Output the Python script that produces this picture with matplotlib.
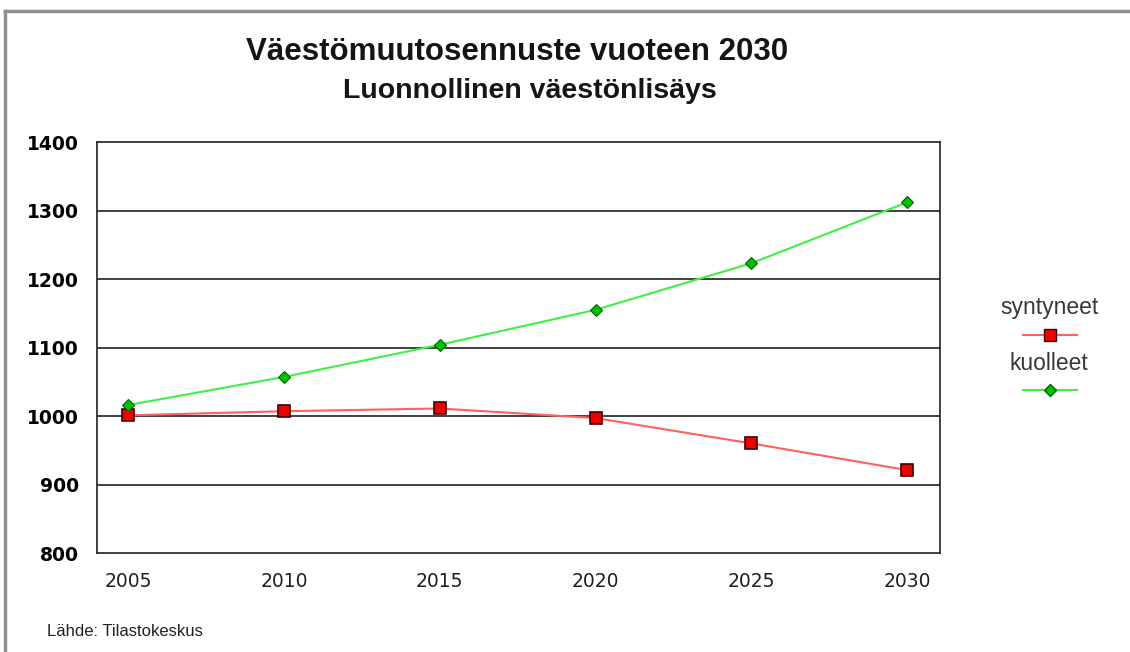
import matplotlib.pyplot as plt
from matplotlib.lines import Line2D

years = [2005, 2010, 2015, 2020, 2025, 2030]
syntyneet = [1001, 1007, 1011, 997, 960, 921]
kuolleet = [1016, 1057, 1104, 1155, 1223, 1312]
y_ticks = [800, 900, 1000, 1100, 1200, 1300, 1400]

plt.rcParams['font.family'] = ['Liberation Sans', 'DejaVu Sans']

fig = plt.figure(figsize=(11.3, 6.52), dpi=100)
ax = fig.add_axes([0.0858, 0.1518, 0.746, 0.6304])

# grid first, lines on top
for v in y_ticks[1:-1]:
    ax.axhline(v, color='#202020', lw=1.2, zorder=1)

ax.plot(years, syntyneet, color='#ff6060', lw=1.5, marker='s', ms=9,
        mfc='#ee0000', mec='#400000', mew=1.2, zorder=3, label='syntyneet')
ax.plot(years, kuolleet, color='#40f040', lw=1.5, marker='D', ms=6,
        mfc='#00c000', mec='#006000', mew=0.8, zorder=3, label='kuolleet')

ax.set_xlim(2004, 2031.05)
ax.set_ylim(800, 1400)
ax.set_xticks(years)
ax.set_yticks(y_ticks)
ax.set_xticklabels([str(y) for y in years], fontsize=13.5, family='DejaVu Sans',
                   color='#202020')
ax.set_yticklabels([str(v) for v in y_ticks], fontsize=13.5, fontweight='bold',
                   family='DejaVu Sans')
ax.tick_params(axis='x', length=0, pad=14)
ax.tick_params(axis='y', length=0, pad=13)
for s in ax.spines.values():
    s.set_color('#202020')
    s.set_linewidth(1.2)

fig.text(0.4575, 0.921, 'Väestömuutosennuste vuoteen 2030', ha='center', va='center',
         fontsize=22.5, fontweight='bold', color='#151515')
fig.text(0.4685, 0.860, 'Luonnollinen väestönlisäys', ha='center', va='center',
         fontsize=20.5, fontweight='bold', color='#151515')
fig.text(0.042, 0.032, 'Lähde: Tilastokeskus', ha='left', va='center', fontsize=12,
         color='#202020')

# legend, drawn by hand like the original
for i, (lab, col, mk, ms, mfc, mec) in enumerate([
        ('syntyneet', '#ff6060', 's', 9, '#ee0000', '#400000'),
        ('kuolleet', '#40f040', 'D', 6, '#00c000', '#006000')]):
    ty = 1 - (308 + i * 55) / 652
    my = 1 - (335 + i * 55) / 652
    fig.text(1049 / 1130, ty, lab, ha='center', va='center', fontsize=16.5, color='#383838')
    fig.add_artist(Line2D([1023 / 1130, 1077 / 1130], [my, my], color=col, lw=1.5))
    fig.add_artist(Line2D([1050 / 1130], [my], marker=mk, ms=ms, mfc=mfc, mec=mec,
                          mew=1.0, lw=0))

# frame of the picture (top and left edges)
fig.add_artist(Line2D([5 / 1130, 1], [1 - 11 / 652, 1 - 11 / 652], color='#909090', lw=2.5))
fig.add_artist(Line2D([5 / 1130, 5 / 1130], [0, 1 - 11 / 652], color='#909090', lw=2.5))

fig.savefig('out.png', dpi=100)
